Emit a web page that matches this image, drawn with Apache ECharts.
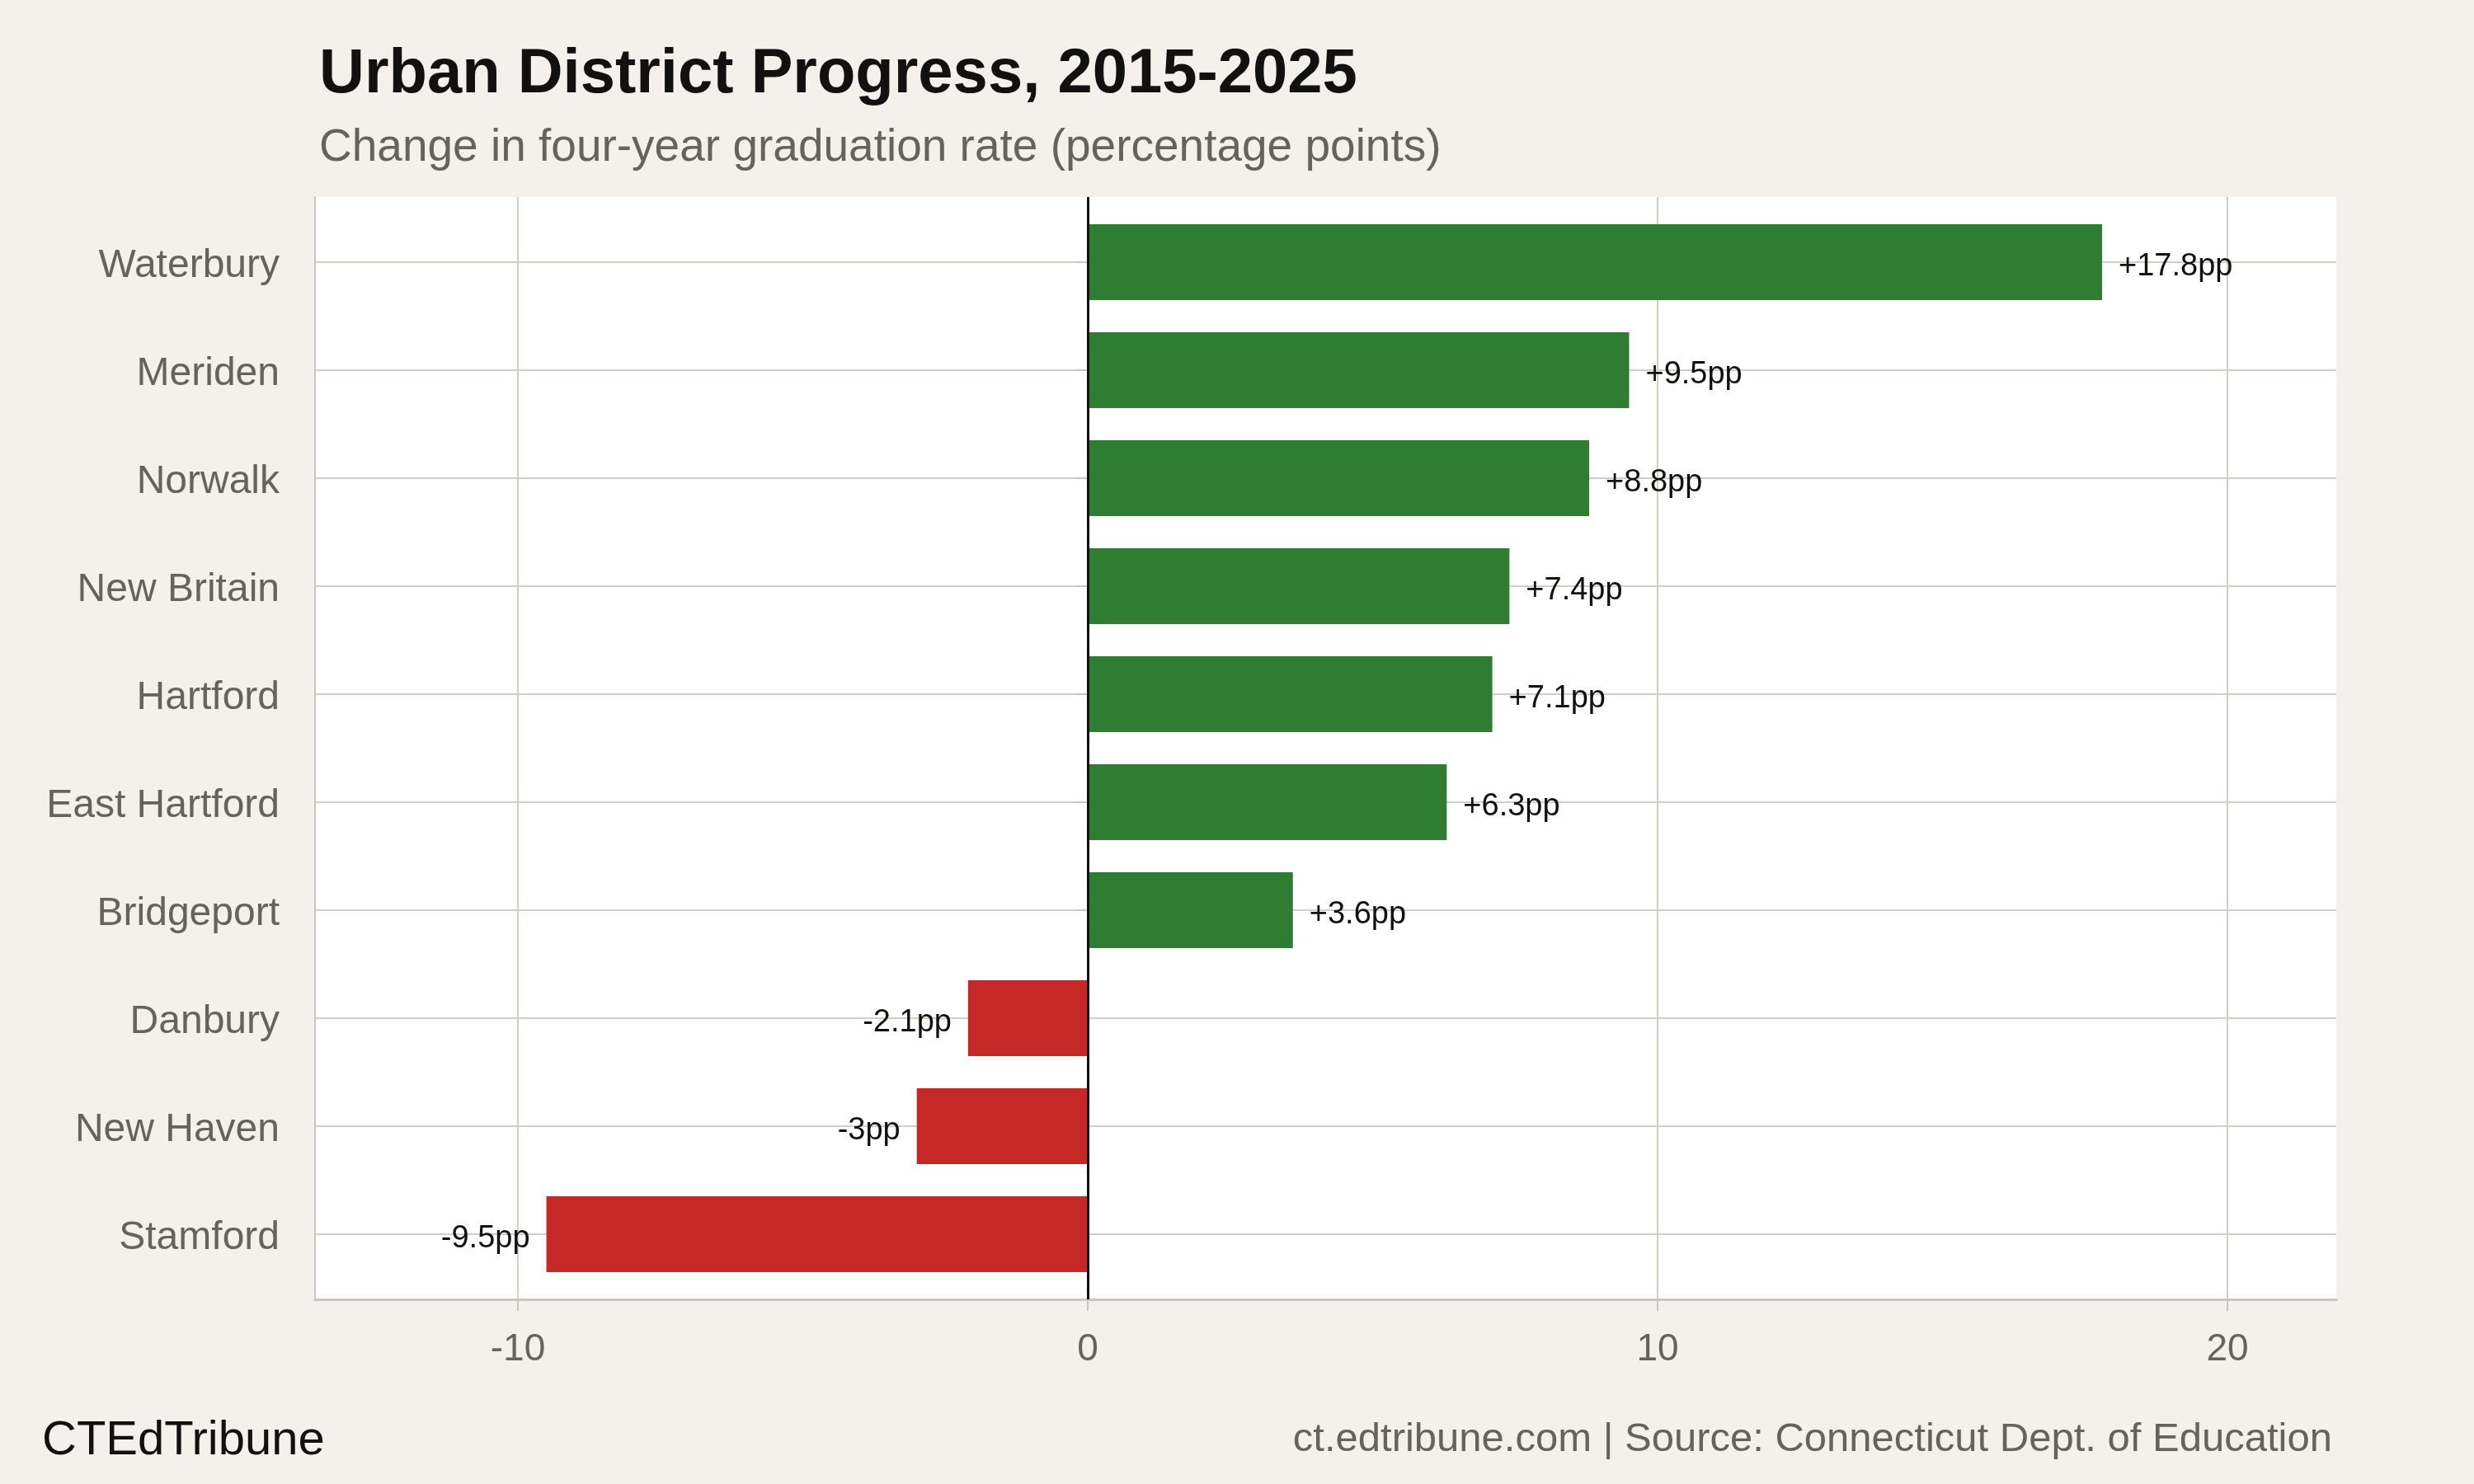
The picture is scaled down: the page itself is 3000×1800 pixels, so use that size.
<!DOCTYPE html>
<html lang="en" style="height: 100%">
<head>
  <meta charset="utf-8">
  <script type="text/javascript" src="https://cdn.jsdelivr.net/npm/echarts@6/dist/echarts.min.js"></script>
</head>
<body style="height: 100%; margin: 0; background: #f4f1ec">
  <div id="main" style="height: 1800px; width: 3000px"></div>

  <script type="text/javascript">
    // districts top to bottom, change in pp
    var districts = ['Waterbury', 'Meriden', 'Norwalk', 'New Britain', 'Hartford',
                     'East Hartford', 'Bridgeport', 'Danbury', 'New Haven', 'Stamford'];
    var change = [17.8, 9.5, 8.8, 7.4, 7.1, 6.3, 3.6, -2.1, -3, -9.5];
    var xTicks = [-10, 0, 10, 20];

    var green = '#2e7d32';
    var red = '#c62828';
    var grey = '#66635c';
    var gridCol = '#d3cfc7';
    var font = '"Liberation Sans", Arial, Helvetica, sans-serif';

    var chart = echarts.init(document.getElementById('main'));

    var barData = [];
    for (var i = 0; i < change.length; i++) {
      var v = change[i];
      barData.push({
        value: v,
        itemStyle: { color: v >= 0 ? green : red },
        label: { position: v >= 0 ? 'right' : 'left' }
      });
    }

    var option = {
      backgroundColor: '#f4f1ec',
      textStyle: { fontFamily: font },
      title: [
        { text: 'Urban District Progress, 2015-2025', left: 382, top: 48,
          textStyle: { fontSize: 76, fontWeight: 'bold', color: '#111', fontFamily: font } },
        { text: 'Change in four-year graduation rate (percentage points)', left: 382, top: 147,
          textStyle: { fontSize: 55, fontWeight: 'normal', color: grey, fontFamily: font } },
        { text: 'CTEdTribune', left: 46, top: 1714,
          textStyle: { fontSize: 58, fontWeight: 'normal', color: '#111', fontFamily: font } },
        { text: 'ct.edtribune.com | Source: Connecticut Dept. of Education', right: 167, top: 1717,
          textStyle: { fontSize: 49, fontWeight: 'normal', color: grey, fontFamily: font } }
      ],
      grid: [
        { left: 382, right: 167, top: 239, bottom: 224, show: true, backgroundColor: '#fff', borderWidth: 0 },
        { left: 382, right: 167, top: 318, bottom: 303 }
      ],
      xAxis: [
        {
          gridIndex: 0, type: 'value', min: -13.56, max: 21.91,
          axisLine: { show: true, onZero: false, lineStyle: { color: '#cbc6bd', width: 3 } },
          axisTick: { show: true, length: 14, customValues: xTicks, lineStyle: { color: '#cbc6bd', width: 2 } },
          axisLabel: { customValues: xTicks, color: grey, fontSize: 46, margin: 38, fontFamily: font },
          splitLine: { show: true, lineStyle: { color: gridCol, width: 2 } }
        },
        { gridIndex: 1, type: 'value', min: -13.56, max: 21.91, show: false }
      ],
      yAxis: [
        {
          gridIndex: 0, type: 'value', min: 0, max: 1,
          axisLine: { show: true, onZero: false, lineStyle: { color: '#cbc6bd', width: 2 } },
          axisTick: { show: false }, axisLabel: { show: false }, splitLine: { show: false }
        },
        {
          gridIndex: 1, type: 'category', data: districts, inverse: true, boundaryGap: false,
          axisLine: { show: false },
          axisTick: { show: true, length: 14, interval: 0, lineStyle: { color: '#cbc6bd', width: 2 } },
          axisLabel: {
            interval: 0, margin: 43,
            formatter: function (name) { return '{n|' + name + '}'; },
            rich: { n: { color: grey, fontSize: 48, fontFamily: font, padding: [9, 0, 0, 0] } }
          },
          splitLine: { show: true, interval: 0, lineStyle: { color: gridCol, width: 2 } }
        }
      ],
      series: [
        {
          type: 'bar', xAxisIndex: 1, yAxisIndex: 1, data: barData,
          barWidth: 92, clip: false, z: 3,
          label: {
            show: true, distance: 20, offset: [0, 6], color: '#111', fontSize: 38, fontFamily: font,
            formatter: function (p) { return (p.value > 0 ? '+' : '') + p.value + 'pp'; }
          }
        },
        {
          type: 'line', xAxisIndex: 0, yAxisIndex: 0, data: [], z: 5,
          markLine: {
            silent: true, symbol: 'none', label: { show: false },
            lineStyle: { color: '#111', width: 3, type: 'solid' },
            data: [{ xAxis: 0 }]
          }
        }
      ]
    };

    chart.setOption(option);
  </script>
</body>
</html>
